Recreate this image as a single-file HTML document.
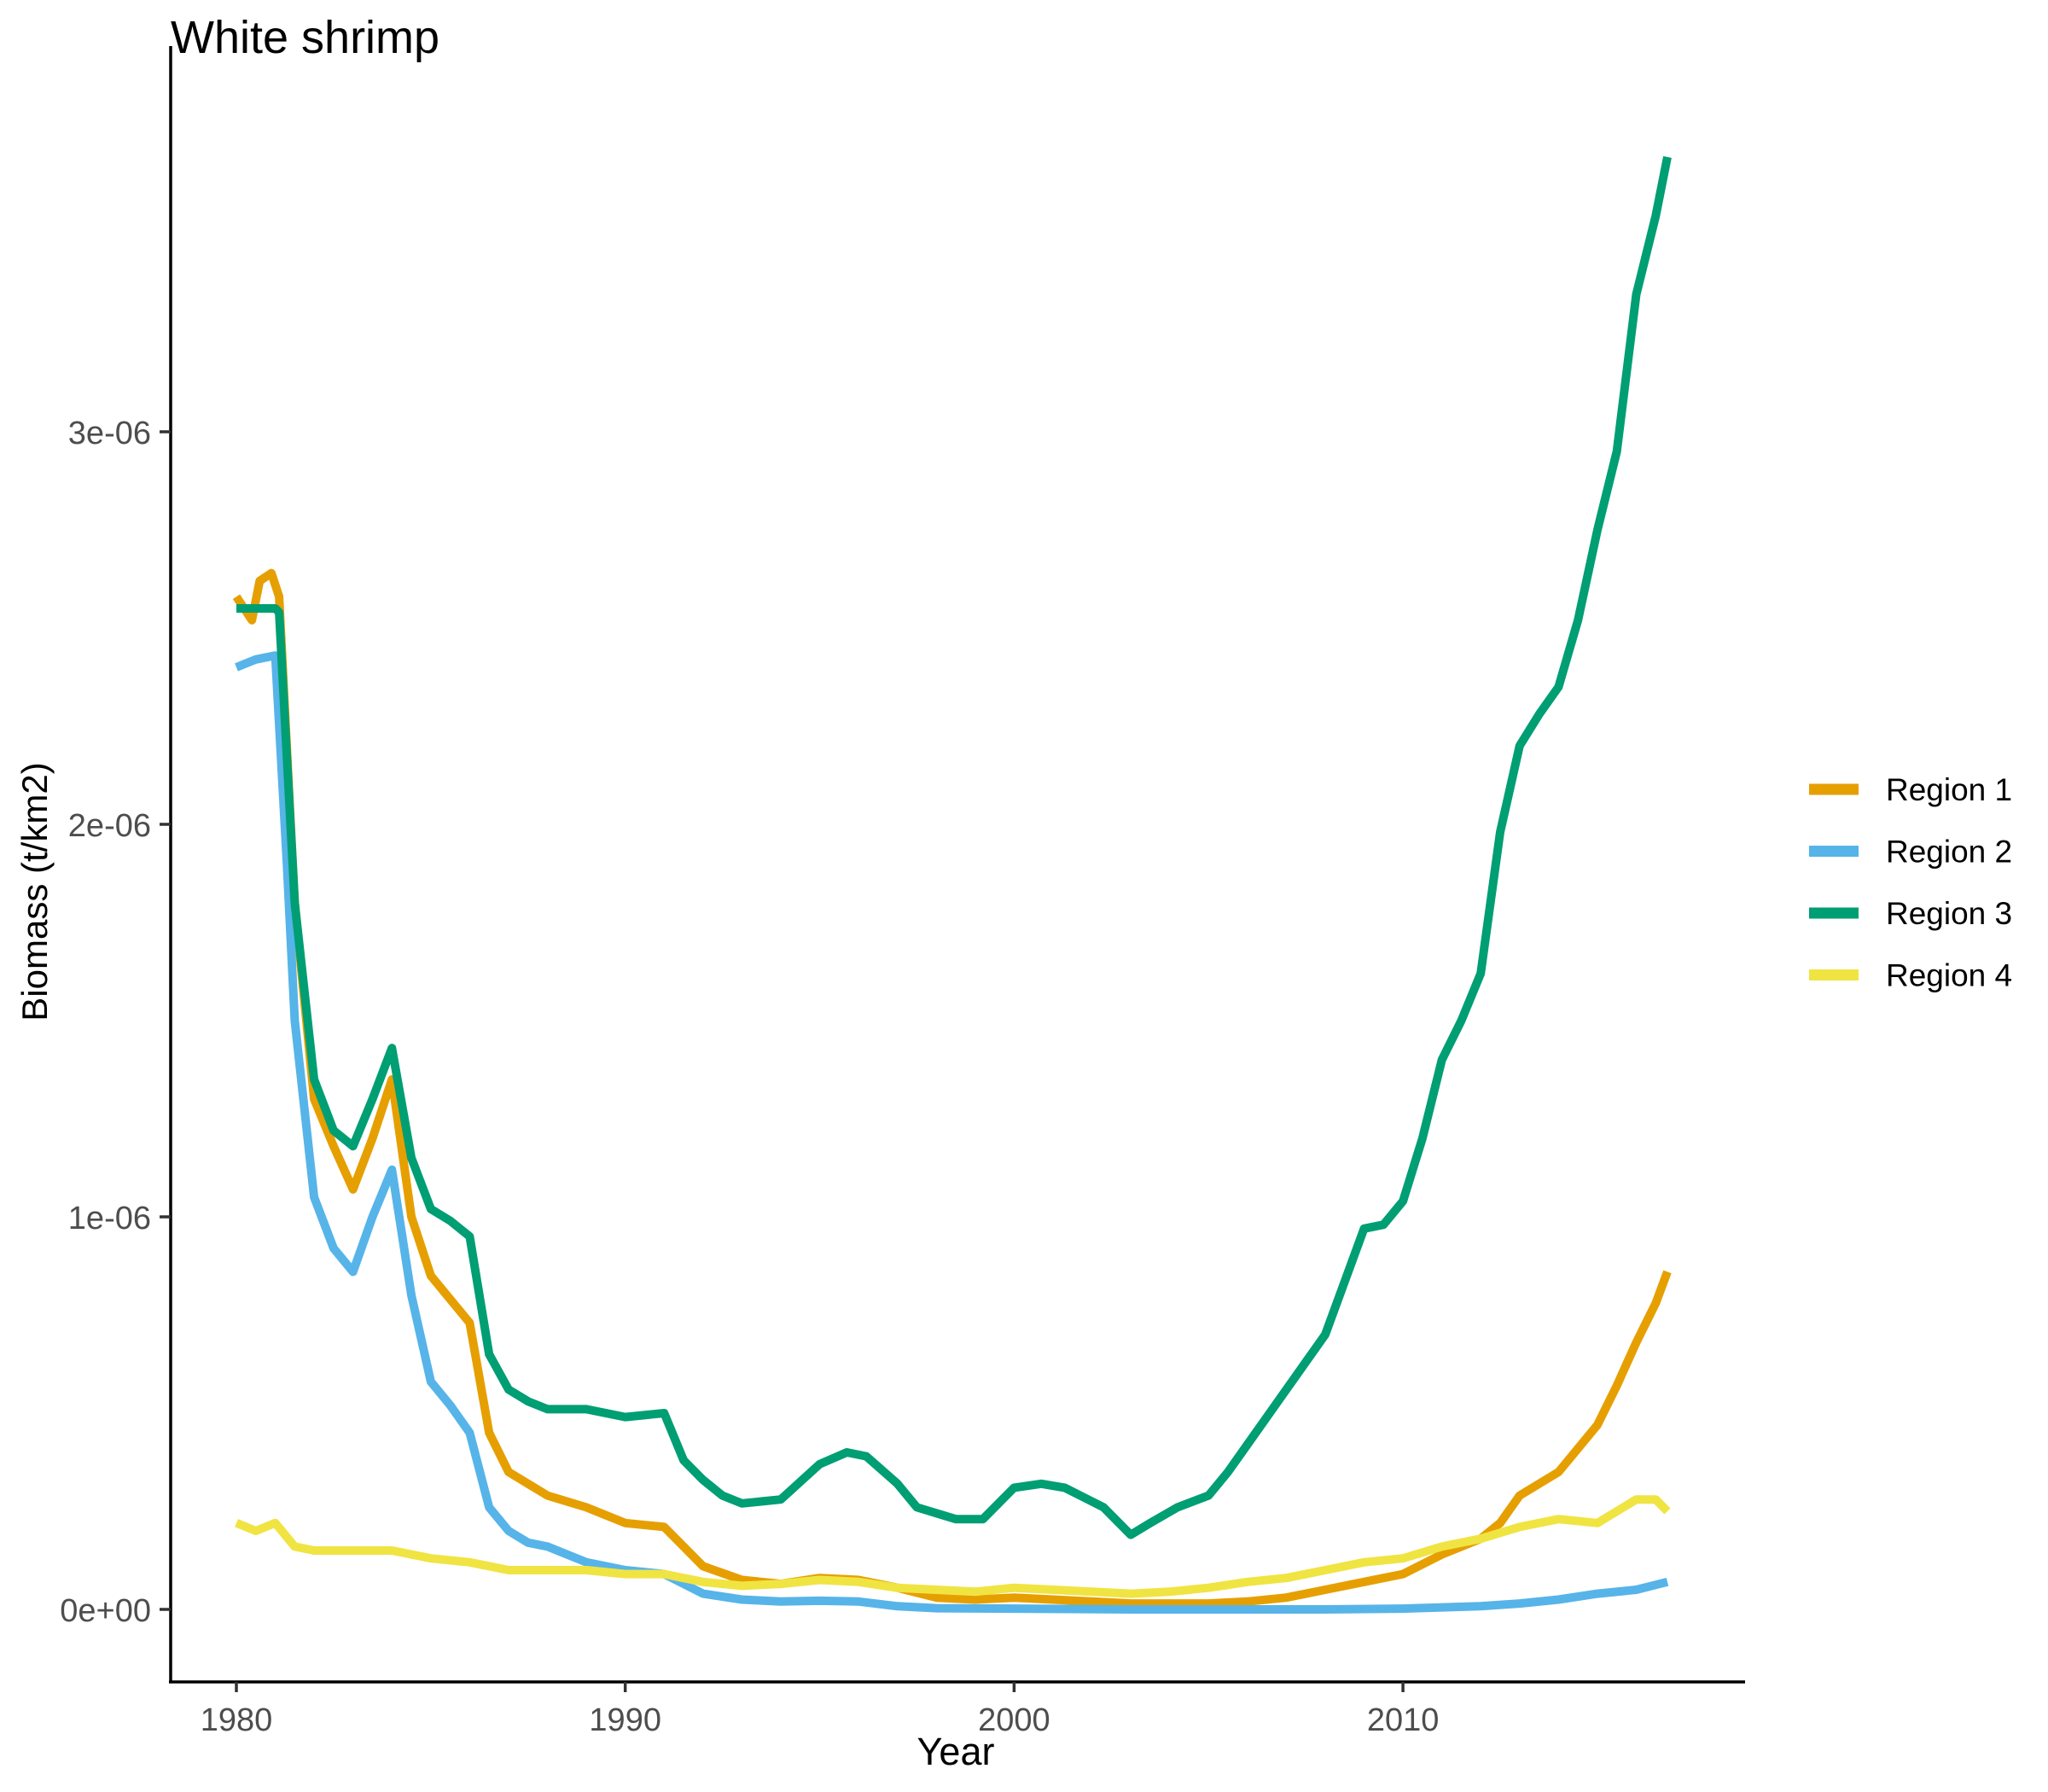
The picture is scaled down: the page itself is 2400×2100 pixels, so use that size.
<!DOCTYPE html>
<html><head><meta charset="utf-8"><style>
html,body{margin:0;padding:0;background:#fff}
svg{display:block;font-family:"Liberation Sans",Arial,sans-serif}
</style></head><body>
<svg id="chart" width="2400" height="2100" viewBox="0 0 2400 2100">
<text x="200" y="62" font-size="54">White shrimp</text>
<g id="plot"></g>
<line x1="200" y1="54" x2="200" y2="1972" stroke="#000" stroke-width="3.5"/>
<line x1="198" y1="1971" x2="2045" y2="1971" stroke="#000" stroke-width="3.5"/>
<g id="xticks"></g>
<g id="yticks"></g>
<text x="1120" y="2068" font-size="45" text-anchor="middle">Year</text>
<text transform="translate(55,1045) rotate(-90)" font-size="42" text-anchor="middle">Biomass (t/km2)</text>
<g id="legend"></g>
</svg>
<script>
const xTicks=[1980,1990,2000,2010];
const yTicks=[0,1,2,3];
const yTickLabels=["0e+00","1e-06","2e-06","3e-06"];
const seriesNames=["Region 1","Region 2","Region 3","Region 4"];
const r1Years=[1980,1980.4,1980.6,1980.9,1981.1,1981.5,1982,1982.5,1983,1983.5,1984,1984.5,1985,1985.5,1986,1986.5,1987,1987.5,1988,1989,1990,1991,1991.5,1992,1993,1994,1995,1996,1997,1998,1999,2000,2001,2002,2003,2004,2005,2006,2007,2008,2009,2010,2011,2012,2012.5,2013,2014,2014.5,2015,2015.5,2016,2016.5,2016.8];
const r1Vals=[2.58,2.52,2.62,2.64,2.58,1.8,1.3,1.18,1.07,1.2,1.35,1.0,0.85,0.79,0.73,0.45,0.35,0.32,0.29,0.26,0.22,0.21,0.16,0.11,0.075,0.065,0.08,0.075,0.055,0.03,0.025,0.03,0.025,0.02,0.015,0.015,0.015,0.02,0.03,0.05,0.07,0.09,0.14,0.18,0.22,0.29,0.35,0.41,0.47,0.57,0.68,0.78,0.86];
const r2Years=[1980,1980.5,1981,1981.3,1981.5,1982,1982.5,1983,1983.5,1984,1984.5,1985,1985.5,1986,1986.5,1987,1987.5,1988,1989,1990,1991,1992,1993,1994,1995,1996,1997,1998,2000,2003,2008,2010,2012,2013,2014,2015,2016,2016.8];
const r2Vals=[2.40,2.42,2.43,1.9,1.5,1.05,0.92,0.86,1.0,1.12,0.8,0.58,0.52,0.45,0.26,0.2,0.17,0.16,0.12,0.10,0.09,0.04,0.025,0.02,0.022,0.02,0.008,0.003,0.002,0,0,0.002,0.008,0.015,0.025,0.04,0.05,0.07];
const r3Years=[1980,1981,1981.1,1981.5,1982,1982.5,1983,1983.5,1984,1984.5,1985,1985.5,1986,1986.5,1987,1987.5,1988,1989,1990,1991,1991.5,1992,1992.5,1993,1994,1995,1995.7,1996.2,1997,1997.5,1998.5,1999.2,2000,2000.7,2001.3,2002.3,2003,2003.5,2004.2,2005,2005.5,2006,2007,2008,2009,2009.5,2010,2010.5,2011,2011.5,2012,2012.5,2013,2013.5,2014,2014.5,2015,2015.5,2016,2016.5,2016.8];
const r3Vals=[2.55,2.55,2.54,1.8,1.35,1.22,1.18,1.3,1.43,1.15,1.02,0.99,0.95,0.65,0.56,0.53,0.51,0.51,0.49,0.5,0.38,0.33,0.29,0.27,0.28,0.37,0.40,0.39,0.32,0.26,0.23,0.23,0.31,0.32,0.31,0.26,0.19,0.22,0.26,0.29,0.35,0.42,0.56,0.70,0.97,0.98,1.04,1.2,1.40,1.50,1.62,1.98,2.20,2.28,2.35,2.52,2.75,2.95,3.35,3.55,3.70];
const r4Years=[1980,1980.5,1981,1981.5,1982,1983,1984,1985,1986,1987,1988,1989,1990,1991,1992,1993,1994,1995,1996,1997,1998,1999,2000,2001,2002,2003,2004,2005,2006,2007,2008,2009,2010,2011,2012,2013,2014,2015,2016,2016.5,2016.8];
const r4Vals=[0.22,0.20,0.22,0.16,0.15,0.15,0.15,0.13,0.12,0.10,0.10,0.10,0.09,0.09,0.07,0.06,0.065,0.075,0.07,0.055,0.05,0.045,0.055,0.05,0.045,0.04,0.045,0.055,0.07,0.08,0.10,0.12,0.13,0.16,0.18,0.21,0.23,0.22,0.28,0.28,0.25];
const colors=["#E69F00","#56B4E9","#009E73","#F0E442"];
const NS="http://www.w3.org/2000/svg";
const xs=y=>277+(y-1980)*45.57;
const ys=v=>1886-v*460;
const plot=document.getElementById('plot');
const series=[[r1Years,r1Vals],[r2Years,r2Vals],[r3Years,r3Vals],[r4Years,r4Vals]];
[0,1,2,3].forEach(i=>{
  const [yr,vals]=series[i];
  const p=document.createElementNS(NS,'path');
  p.setAttribute('d',yr.map((y,k)=>(k?'L':'M')+xs(y).toFixed(1)+','+ys(vals[k]).toFixed(1)).join(''));
  p.setAttribute('fill','none');p.setAttribute('stroke',colors[i]);p.setAttribute('stroke-width','10');p.setAttribute('stroke-linejoin','round');
  
  
  plot.appendChild(p);
});
const xg=document.getElementById('xticks');
xTicks.forEach(t=>{
  const l=document.createElementNS(NS,'line');
  l.setAttribute('x1',xs(t));l.setAttribute('x2',xs(t));l.setAttribute('y1',1971);l.setAttribute('y2',1983);
  l.setAttribute('stroke','#333');l.setAttribute('stroke-width','3.5');
  
  
  xg.appendChild(l);
  const tx=document.createElementNS(NS,'text');
  tx.setAttribute('x',xs(t));tx.setAttribute('y',2028);tx.setAttribute('font-size','38');tx.setAttribute('fill','#4d4d4d');tx.setAttribute('text-anchor','middle');
  tx.textContent=t;
  
  
  xg.appendChild(tx);
});
const yg=document.getElementById('yticks');
yTicks.forEach((t,k)=>{
  const l=document.createElementNS(NS,'line');
  l.setAttribute('x1',187);l.setAttribute('x2',200);l.setAttribute('y1',ys(t));l.setAttribute('y2',ys(t));
  l.setAttribute('stroke','#333');l.setAttribute('stroke-width','3.5');
  
  
  yg.appendChild(l);
  const tx=document.createElementNS(NS,'text');
  tx.setAttribute('x',177);tx.setAttribute('y',ys(t)+14);tx.setAttribute('font-size','38');tx.setAttribute('fill','#4d4d4d');tx.setAttribute('text-anchor','end');
  tx.textContent=yTickLabels[k];
  
  
  yg.appendChild(tx);
});
const lg=document.getElementById('legend');
seriesNames.forEach((n,i)=>{
  const cy=925+i*72.5;
  const l=document.createElementNS(NS,'line');
  l.setAttribute('x1',2120);l.setAttribute('x2',2178);l.setAttribute('y1',cy);l.setAttribute('y2',cy);
  l.setAttribute('stroke',colors[i]);l.setAttribute('stroke-width','13');
  
  
  lg.appendChild(l);
  const tx=document.createElementNS(NS,'text');
  tx.setAttribute('x',2210);tx.setAttribute('y',cy+13);tx.setAttribute('font-size','37');
  tx.textContent=n;
  
  
  lg.appendChild(tx);
});
</script>
</body></html>
